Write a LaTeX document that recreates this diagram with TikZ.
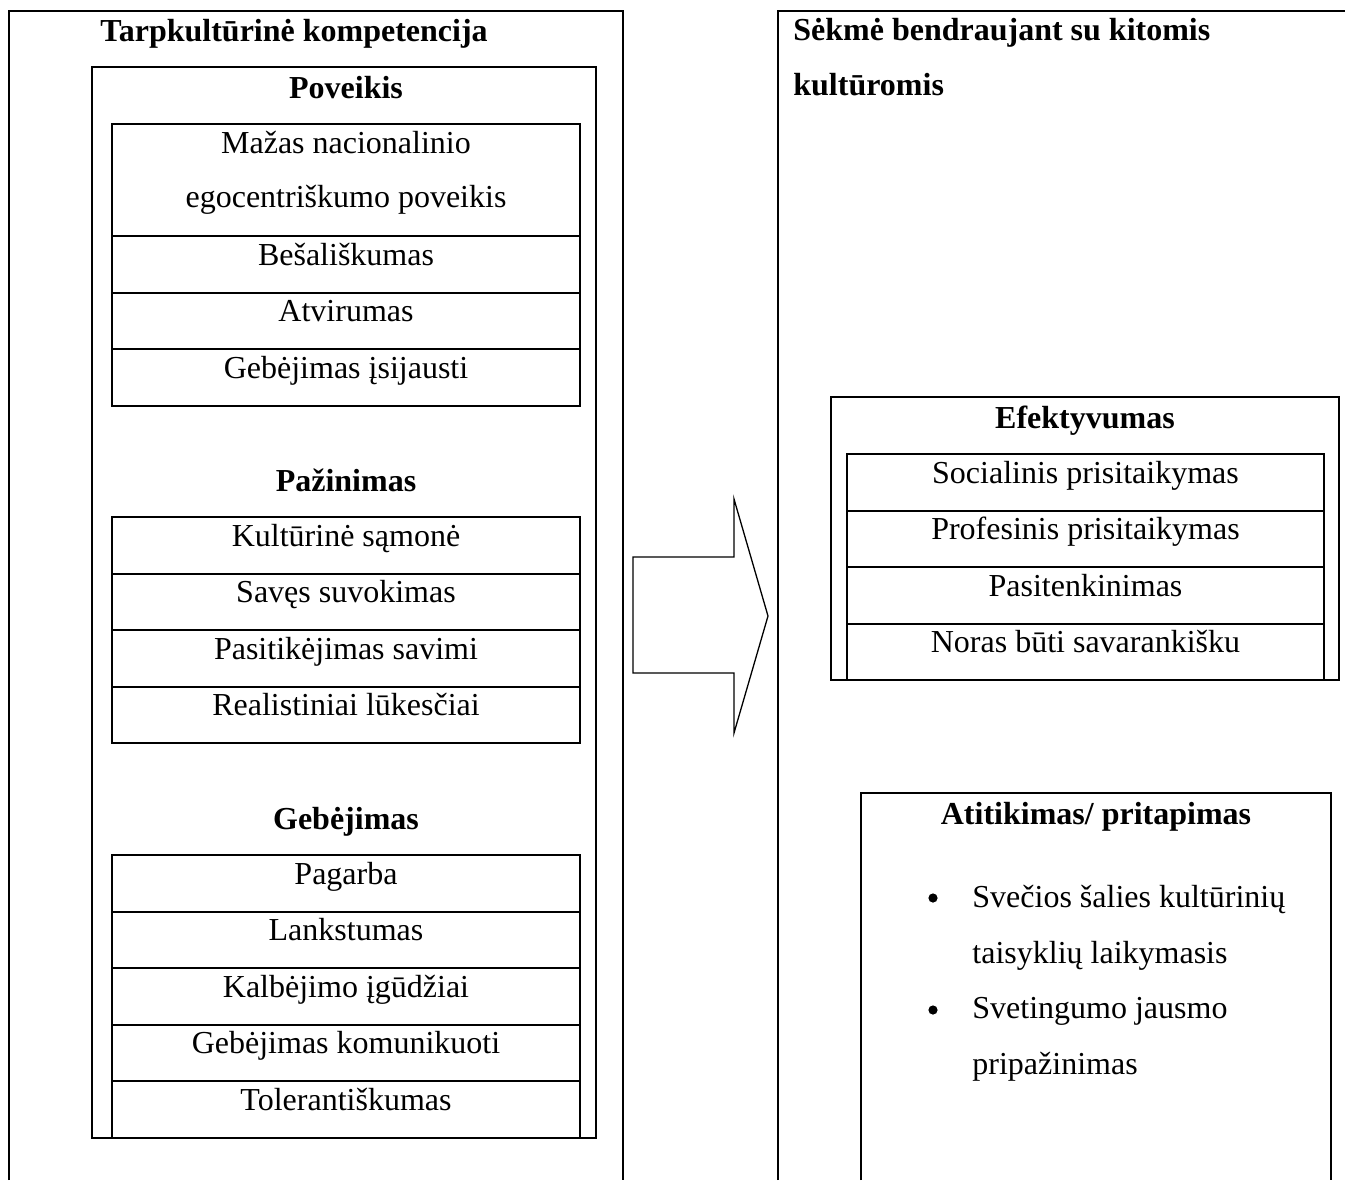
\documentclass[tikz,border=0pt]{standalone}
\usepackage{fontspec}
\setmainfont{Liberation Serif}
\usepackage{tikz}
\usetikzlibrary{positioning}
\newcommand{\bodysize}{\fontsize{16}{28}\selectfont}
\tikzset{
frame/.style={draw, line width=1pt},
heading/.style={font=\bodysize\bfseries, inner sep=0pt, anchor=base},
cell/.style={draw, line width=1pt, minimum width=#1, inner ysep=0pt, outer sep=0pt,
    text height=14.5pt, text depth=13.75pt, anchor=north},
dot/.style={circle, fill=black, inner sep=0pt, minimum size=4.6pt}}

\begin{document}
\begin{tikzpicture}[x=0.5pt, y=-0.5pt, every node/.style={font=\bodysize}]
    \useasboundingbox (0,0) rectangle (1345,1180);

                \draw[frame] (9,1180) |- (623,11) -- (623,1180);
                \node[heading, anchor=base west] (tk) at (100,41) {Tarpkultūrinė kompetencija};
                \draw[frame] (92,67) rectangle (596,1138);

                \node[heading] (poveikis) at (346,98) {Poveikis};
                \node[cell=234pt, text depth=41.5pt] (p1) at (346,124)
                    {\begin{tabular}[t]{@{}c@{}}Mažas nacionalinio\\[-1pt]egocentriškumo poveikis\end{tabular}};
                \node[cell=234pt, below=0pt of p1] (p2) {Bešališkumas};
                \node[cell=234pt, below=0pt of p2] (p3) {Atvirumas};
                \node[cell=234pt, below=0pt of p3] (p4) {Gebėjimas įsijausti};

                \node[heading] (pazinimas) at (346,491) {Pažinimas};
                \node[cell=234pt] (z1) at (346,517) {Kultūrinė sąmonė};
                \node[cell=234pt, below=0pt of z1] (z2) {Savęs suvokimas};
                \node[cell=234pt, below=0pt of z2] (z3) {Pasitikėjimas savimi};
                \node[cell=234pt, below=0pt of z3] (z4) {Realistiniai lūkesčiai};

                \node[heading] (gebejimas) at (346,829) {Gebėjimas};
                \node[cell=234pt] (g1) at (346,855) {Pagarba};
                \node[cell=234pt, below=0pt of g1] (g2) {Lankstumas};
                \node[cell=234pt, below=0pt of g2] (g3) {Kalbėjimo įgūdžiai};
                \node[cell=234pt, below=0pt of g3] (g4) {Gebėjimas komunikuoti};
                \node[cell=234pt, below=0pt of g4] (g5) {Tolerantiškumas};

                \draw[line width=0.65pt] (633,557) -- (734,557) -- (734,499) -- (768,616)
                    -- (734,733) -- (734,673) -- (633,673) -- cycle;

                \draw[frame] (778,1180) |- (1345,11);
                \node[heading, anchor=base west] (sk1) at (793,40) {Sėkmė bendraujant su kitomis};
                \node[heading, anchor=base west] (sk2) at (793,95) {kultūromis};

                \draw[frame] (831,397) rectangle (1339,680);
                \node[heading] (efekt) at (1085,428) {Efektyvumas};
                \node[cell=238.5pt] (e1) at (1085.5,454) {Socialinis prisitaikymas};
                \node[cell=238.5pt, below=0pt of e1] (e2) {Profesinis prisitaikymas};
                \node[cell=238.5pt, below=0pt of e2] (e3) {Pasitenkinimas};
                \node[cell=238.5pt, below=0pt of e3] (e4) {Noras būti savarankišku};

                \draw[frame] (861,1180) |- (1331,793) -- (1331,1180);
                \node[heading] (atit) at (1096,824) {Atitikimas/ pritapimas};
                \node[dot] (b1) at (933,898) {};
                \node[anchor=base west, inner sep=0pt] (i1) at (972,907)
                    {\begin{tabular}[t]{@{}l@{}}Svečios šalies kultūrinių\\taisyklių laikymasis\end{tabular}};
                \node[dot] (b2) at (933,1010) {};
                \node[anchor=base west, inner sep=0pt] (i2) at (972,1018)
                    {\begin{tabular}[t]{@{}l@{}}Svetingumo jausmo\\pripažinimas\end{tabular}};

            \end{tikzpicture}
\end{document}
